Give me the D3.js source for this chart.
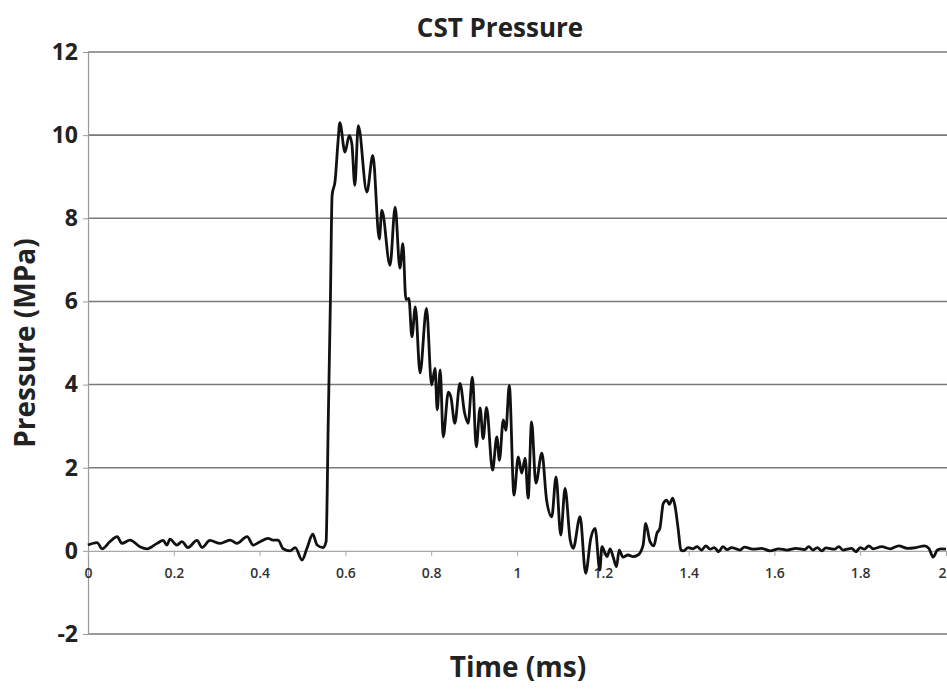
<!DOCTYPE html>
<html>
<head>
<meta charset="utf-8">
<script src="https://cdn.jsdelivr.net/npm/d3@7"></script>
<style>
html,body{margin:0;padding:0;background:#fff;overflow:hidden;}
svg{display:block;}
</style>
</head>
<body>
<svg id="chart" width="947" height="689"></svg>
<script>
// ---- data ----
const chartTitle = "CST Pressure";
const xLabel = "Time (ms)";
const yLabel = "Pressure (MPa)";
const xTicks = [0, 0.2, 0.4, 0.6, 0.8, 1, 1.2, 1.4, 1.6, 1.8, 2];
const yTicks = [-2, 0, 2, 4, 6, 8, 10, 12];
const timeMs = [
  0, 0.021, 0.033, 0.051, 0.068, 0.079, 0.098, 0.121, 0.138, 0.161, 0.175, 0.184, 0.191, 0.207, 0.219, 0.233,
  0.254, 0.266, 0.284, 0.308, 0.331, 0.347, 0.371, 0.385, 0.401, 0.420, 0.431, 0.443, 0.455, 0.471, 0.483,
  0.499, 0.510, 0.524, 0.534, 0.548, 0.555, 0.560, 0.565, 0.569, 0.576, 0.583, 0.587, 0.599, 0.609, 0.615,
  0.622, 0.630, 0.650, 0.664, 0.679, 0.685, 0.704, 0.716, 0.727, 0.734, 0.741, 0.748, 0.755, 0.763, 0.774,
  0.789, 0.801, 0.809, 0.814, 0.821, 0.828, 0.840, 0.846, 0.855, 0.867, 0.878, 0.886, 0.896, 0.905, 0.914,
  0.921, 0.929, 0.943, 0.953, 0.959, 0.968, 0.974, 0.982, 0.993, 1.003, 1.011, 1.019, 1.026, 1.034, 1.044,
  1.058, 1.069, 1.081, 1.091, 1.102, 1.112, 1.124, 1.131, 1.147, 1.160, 1.172, 1.182, 1.193, 1.198, 1.205,
  1.210, 1.217, 1.224, 1.232, 1.238, 1.247, 1.259, 1.270, 1.282, 1.294, 1.300, 1.310, 1.319, 1.326, 1.333,
  1.341, 1.349, 1.355, 1.363, 1.368, 1.376, 1.382, 1.388, 1.399,
  1.41, 1.42, 1.43, 1.44, 1.45, 1.46, 1.47, 1.48, 1.49, 1.50, 1.52, 1.53, 1.55, 1.57, 1.59, 1.61, 1.63,
  1.65, 1.67, 1.68, 1.69, 1.70, 1.71, 1.72, 1.74, 1.75, 1.76, 1.78, 1.79, 1.80, 1.81, 1.82, 1.83, 1.85,
  1.87, 1.89, 1.91, 1.93, 1.95, 1.96, 1.97, 1.98, 1.99, 2.0
];
const pressureMPa = [
  0.14, 0.20, 0.05, 0.22, 0.34, 0.18, 0.26, 0.10, 0.05, 0.18, 0.25, 0.14, 0.28, 0.14, 0.22, 0.08,
  0.25, 0.08, 0.25, 0.18, 0.26, 0.18, 0.34, 0.14, 0.22, 0.30, 0.26, 0.26, 0.05, 0.00, 0.08,
  -0.22, 0.05, 0.40, 0.14, 0.08, 0.22, 3.1, 6.0, 8.55, 8.9, 9.87, 10.3, 9.59, 9.99, 9.8,
  8.79, 10.23, 8.63, 9.51, 7.5, 8.19, 6.87, 8.27, 6.8, 7.39, 6.05, 6.07, 5.15, 5.87, 4.28,
  5.83, 3.99, 4.39, 3.39, 4.35, 2.74, 3.82, 3.7, 3.07, 4.03, 3.31, 3.07, 4.18, 2.5, 3.44,
  2.7, 3.45, 1.94, 2.74, 2.18, 3.15, 2.9, 3.98, 1.34, 2.26, 1.87, 2.23, 1.27, 3.1, 1.63,
  2.35, 1.22, 0.82, 1.78, 0.38, 1.5, 0.26, 0.06, 0.82, -0.54, 0.3, 0.54, -0.46, 0.1, -0.05,
  -0.14, 0.05, -0.14, -0.38, 0.02, -0.15, -0.10, -0.14, -0.10, 0.14, 0.66, 0.22, 0.12, 0.42, 0.54,
  1.14, 1.22, 1.12, 1.27, 1.1, 0.5, 0.02, 0.0, 0.08,
  0.05, 0.1, 0.02, 0.12, 0.04, 0.08, -0.02, 0.1, 0.03, 0.08, 0.02, 0.09, 0.04, 0.06, 0.0, 0.05, 0.02,
  0.06, 0.03, 0.1, 0.02, 0.08, 0.0, 0.07, 0.04, 0.1, 0.02, 0.06, -0.02, 0.08, 0.04, 0.12, 0.05, 0.1,
  0.05, 0.12, 0.06, 0.08, 0.12, 0.06, -0.15, 0.02, 0.05, 0.04
];

// ---- layout ----
const svg = d3.select("#chart");
const W = 947, H = 689;
const mLeft = 88, mRight = 946, mTop = 52, mBottom = 634;

const x = d3.scaleLinear().domain([0, 2]).range([mLeft, mRight]);
const y = d3.scaleLinear().domain([-2, 12]).range([mBottom, mTop]);

const font = "'Open Sans', Lato, sans-serif";

// gridlines (exclude 0, drawn as axis)
svg.append("g").selectAll("line")
  .data(yTicks.filter(d => d !== 0))
  .join("line")
  .attr("x1", mLeft).attr("x2", W)
  .attr("y1", d => y(d)).attr("y2", d => y(d))
  .attr("stroke", "#7a7a7a").attr("stroke-width", 1.6);

// y axis
const yAxis = d3.axisLeft(y).tickValues(yTicks).tickSize(5).tickPadding(5).tickFormat(d => String(d));
const gy = svg.append("g").attr("transform", `translate(${mLeft},0)`).call(yAxis);
gy.select(".domain").attr("stroke", "#9a9a9a").attr("stroke-width", 1.2);
gy.selectAll(".tick line").attr("stroke", "#9a9a9a");
gy.selectAll(".tick text")
  .attr("font-family", font).attr("font-weight", "bold").attr("font-size", 23).attr("fill", "#222");

// x axis at y=0
const xAxis = d3.axisBottom(x).tickValues(xTicks).tickSize(5).tickPadding(12)
  .tickFormat(d => String(d));
const gx = svg.append("g").attr("transform", `translate(0,${y(0)})`).call(xAxis);
gx.select(".domain").attr("stroke", "#a8a8a8").attr("stroke-width", 1.2);
gx.selectAll(".tick line").attr("stroke", "#a8a8a8");
gx.selectAll(".tick text")
  .attr("font-family", font).attr("font-weight", "600").attr("font-size", 14).attr("fill", "#333");
// last label sits at the right edge; keep it inside the frame
gx.selectAll(".tick text").filter(d => d === 2).attr("text-anchor", "end").attr("dx", 0);

// data line
const pts = timeMs.map((t, i) => [t, pressureMPa[i]]);
const line = d3.line().x(d => x(d[0])).y(d => y(d[1])).curve(d3.curveMonotoneX);
svg.append("path")
  .datum(pts)
  .attr("d", line)
  .attr("fill", "none")
  .attr("stroke", "#111")
  .attr("stroke-width", 2.8)
  .attr("stroke-linejoin", "round");

// title
svg.append("text")
  .attr("x", 500).attr("y", 37)
  .attr("text-anchor", "middle")
  .attr("font-family", font).attr("font-weight", "bold").attr("font-size", 26).attr("fill", "#222")
  .text(chartTitle);

// x label
svg.append("text")
  .attr("x", 518).attr("y", 677)
  .attr("text-anchor", "middle")
  .attr("font-family", font).attr("font-weight", "bold").attr("font-size", 28).attr("fill", "#222")
  .text(xLabel);

// y label
svg.append("text")
  .attr("transform", `translate(35,${343}) rotate(-90)`)
  .attr("text-anchor", "middle")
  .attr("font-family", font).attr("font-weight", "bold").attr("font-size", 28).attr("fill", "#222")
  .text(yLabel);
</script>
</body>
</html>
